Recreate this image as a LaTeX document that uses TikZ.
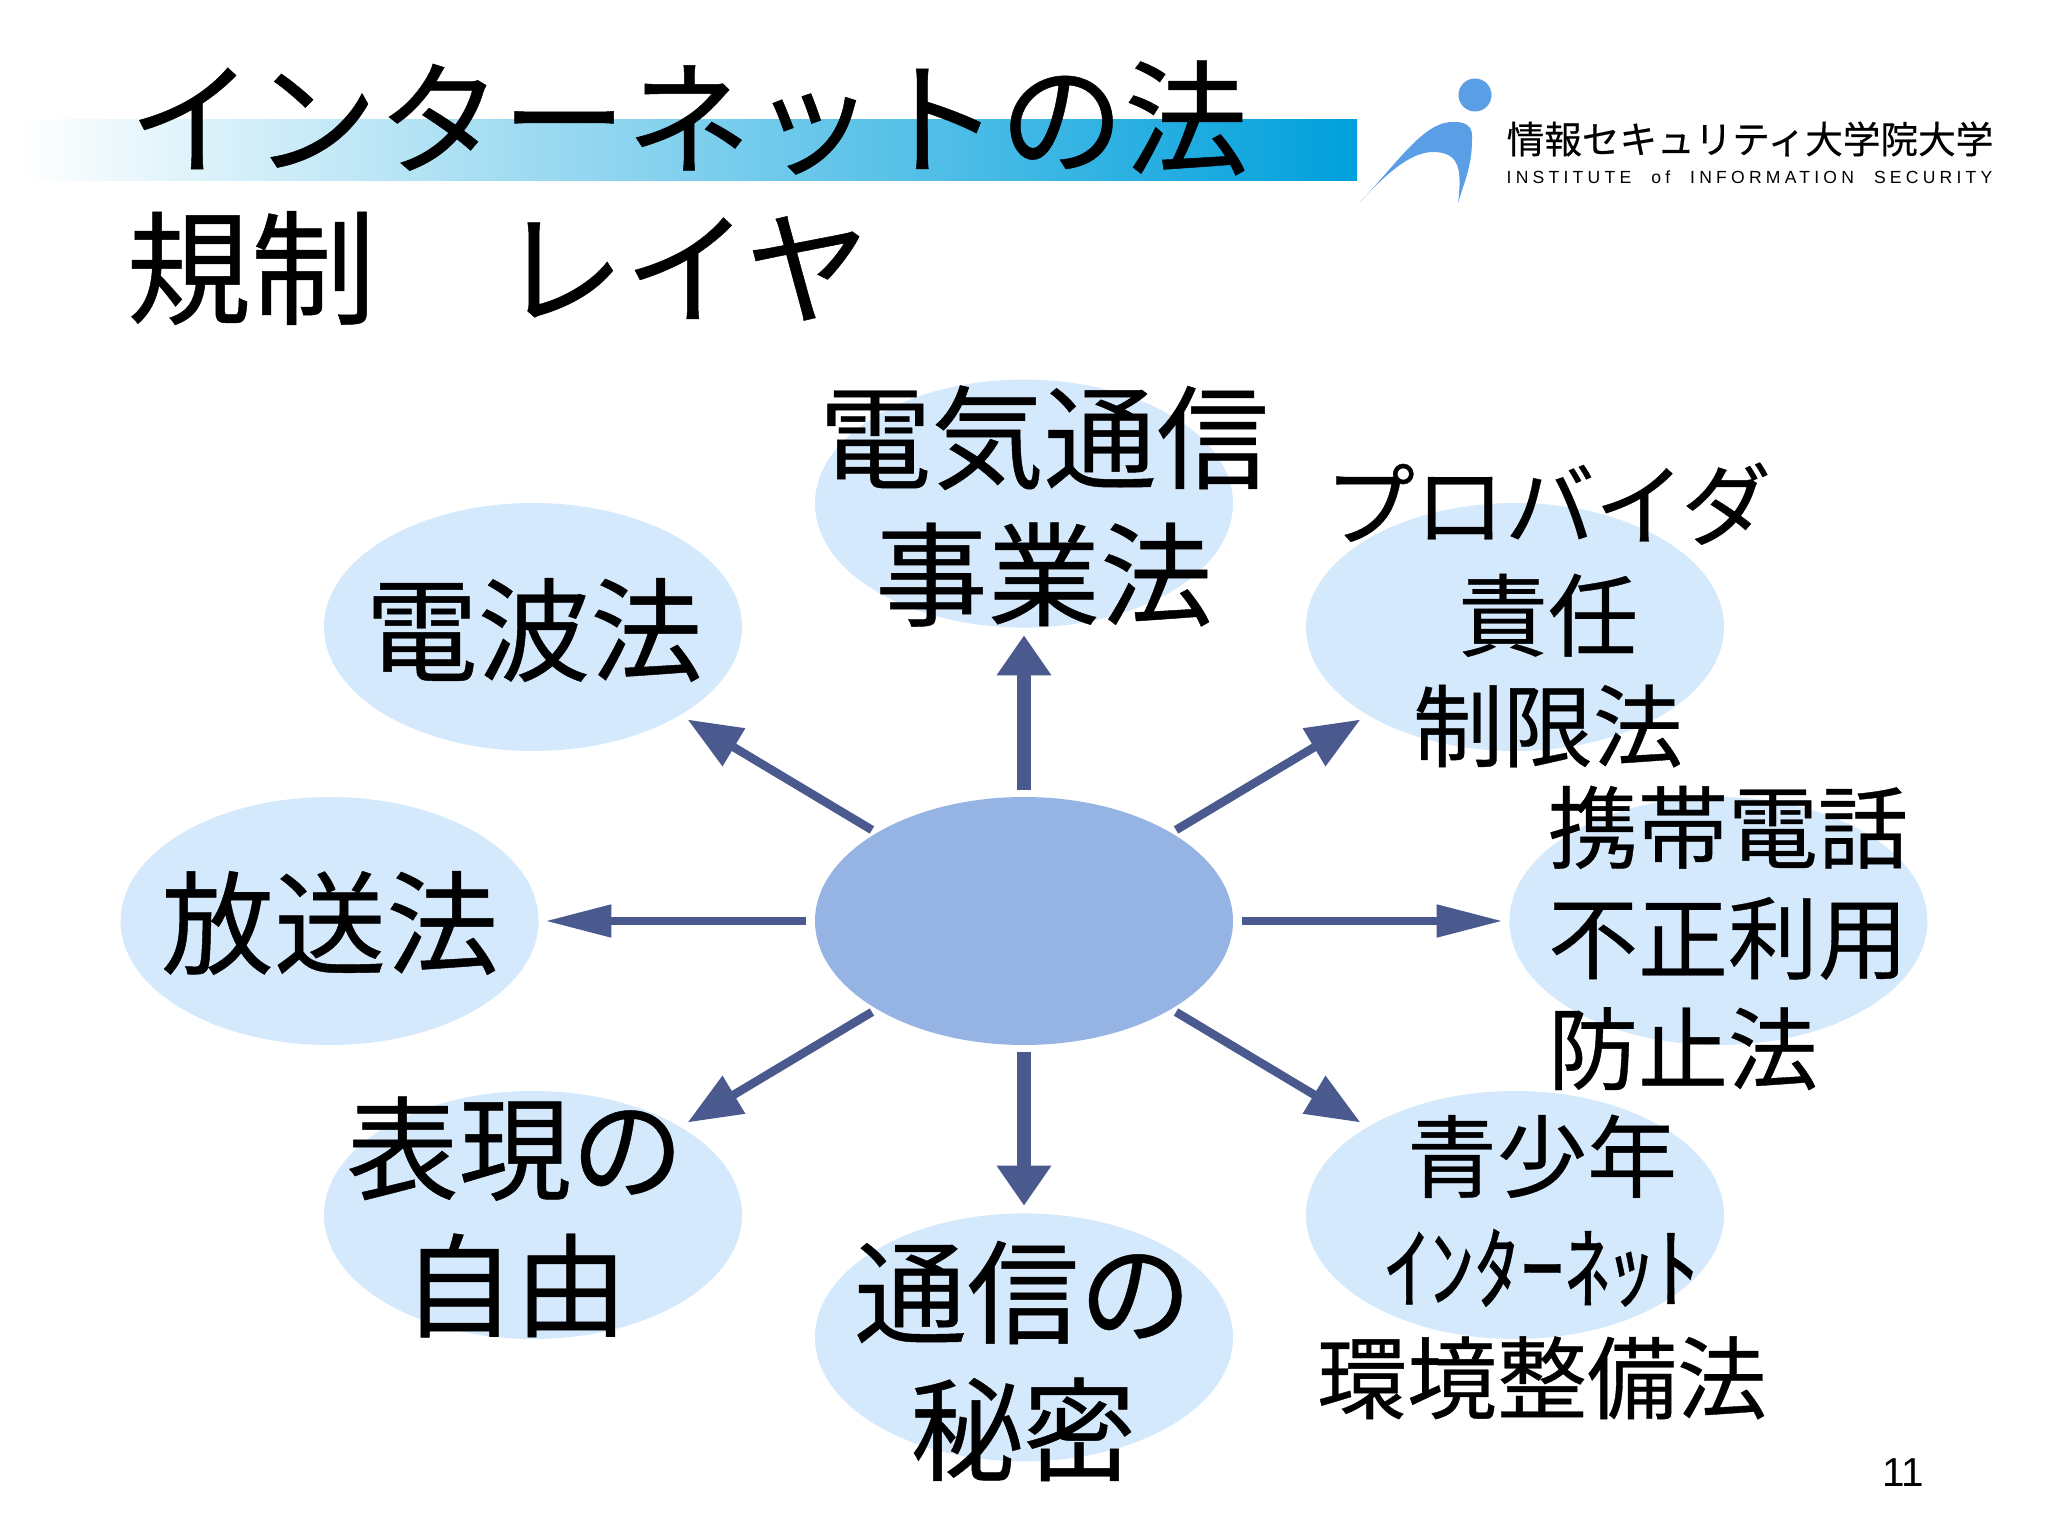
\documentclass[tikz,border=0pt]{standalone}
\usepackage{fontspec}
\setmainfont[FakeBold=0.4]{Noto Sans CJK JP}
\newfontfamily\latinfont[LetterSpace=24,WordSpace=2.2]{Liberation Sans}
\newfontfamily\pagefont{Liberation Sans}
\usepackage{xcolor}
\usetikzlibrary{arrows.meta,positioning,shapes.geometric}
\definecolor{bandblue}{HTML}{00A0DC}
\definecolor{bubble}{HTML}{D5E9FC}
\definecolor{hubblue}{HTML}{95B3E3}
\definecolor{arrblue}{HTML}{4A5A8E}
\definecolor{logoblue}{HTML}{5A9FE6}

\begin{document}
\begin{tikzpicture}[
  spoke/.style={ellipse, fill=bubble, minimum width=4.18cm, minimum height=2.48cm, inner sep=0pt},
  hub/.style={spoke, fill=hubblue},
  title/.style={anchor=west, inner sep=0pt, font=\fontsize{35.4}{36}\selectfont},
  big/.style={align=center, inner sep=0pt, font=\fontsize{32}{39}\selectfont},
  small/.style={align=center, inner sep=0pt, font=\fontsize{25.6}{31.5}\selectfont},
  vert/.style={-{Triangle[length=0.40cm, width=0.52cm]}, arrblue, line width=0.14cm, shorten >=0.07cm, shorten <=0.06cm},
  horiz/.style={-{Triangle[length=0.66cm, width=0.31cm]}, arrblue, line width=0.08cm, shorten >=0.06cm, shorten <=0.08cm},
  diag/.style={-{Triangle[length=0.54cm, width=0.42cm]}, arrblue, line width=0.085cm, shorten >=0.08cm, shorten <=0.05cm}
]
  \useasboundingbox (0,0) rectangle (20.48,-15.36);
  \fill[white] (0,0) rectangle (20.48,-15.36);

  % header
  \shade[left color=white, right color=bandblue] (0.20,-1.20) rectangle (13.57,-1.81);
  \node[title] (line1) at (1.28,-1.18) {インターネットの法};
  \node[title] (line2) at (1.26,-2.68) {規制　レイヤ};

  % logo
  \fill[logoblue] (14.75,-0.95) circle (0.165);
  \fill[logoblue] (13.60,-2.02) .. controls (14.00,-1.60) and (14.25,-1.20) .. (14.55,-1.22)
    .. controls (14.70,-1.22) and (14.73,-1.30) .. (14.72,-1.40)
    .. controls (14.72,-1.65) and (14.65,-1.80) .. (14.58,-2.03)
    .. controls (14.62,-1.70) and (14.60,-1.52) .. (14.33,-1.52)
    .. controls (14.10,-1.52) and (13.85,-1.75) .. (13.60,-2.02) -- cycle;
  \node[anchor=west, inner sep=0pt, font=\fontsize{10.7}{12}\selectfont] (logoja) at (15.06,-1.39) {情報セキュリティ大学院大学};
  \node[anchor=west, inner sep=0pt, font=\fontsize{5}{7}\latinfont] (logoen) at (15.06,-1.77) {INSTITUTE of INFORMATION SECURITY};

  % bubbles
  \node[hub] (center) at (10.24,-9.21) {};
  \node[spoke, above=1.68cm of center] (telecom) {};
  \node[spoke, below=1.67cm of center] (secrecy) {};
  \node[spoke, left=2.75cm of center] (broadcast) {};
  \node[spoke, right=2.75cm of center] (mobile) {};
  \node[spoke] (radio) at (5.33,-6.27) {};
  \node[spoke] (provider) at (15.15,-6.27) {};
  \node[spoke] (speech) at (5.33,-12.15) {};
  \node[spoke] (youth) at (15.15,-12.15) {};

  \draw[vert] (center) -- (telecom);
  \draw[vert] (center) -- (secrecy);
  \draw[horiz] (center) -- (broadcast);
  \draw[horiz] (center) -- (mobile);
  \draw[diag] (center) -- (radio);
  \draw[diag] (center) -- (provider);
  \draw[diag] (center) -- (speech);
  \draw[diag] (center) -- (youth);

  % labels
  \node[big] (telecomtxt) at (10.44,-5.06) {電気通信\\事業法};
  \node[big] (radiotxt) at (5.34,-6.30) {電波法};
  \node[big] (broadcasttxt) at (3.30,-9.23) {放送法};
  \node[big] (speechtxt) at (5.15,-12.17) {表現の\\自由};
  \node[big] (secrecytxt) at (10.23,-13.61) {通信の\\秘密};
  \node[small] (providertxt) at (15.48,-6.15) {プロバイダ\\責任\\制限法};
  \node[small, align=left] (mobiletxt) at (17.28,-9.38) {携帯電話\\不正利用\\防止法};
  \node[small] (youthtxt) at (15.42,-12.67) {青少年\\ｲﾝﾀｰﾈｯﾄ\\環境整備法};

  \node[inner sep=0pt, font=\fontsize{11.5}{13}\pagefont] (page) at (19.03,-14.73) {11};
\end{tikzpicture}
\end{document}
